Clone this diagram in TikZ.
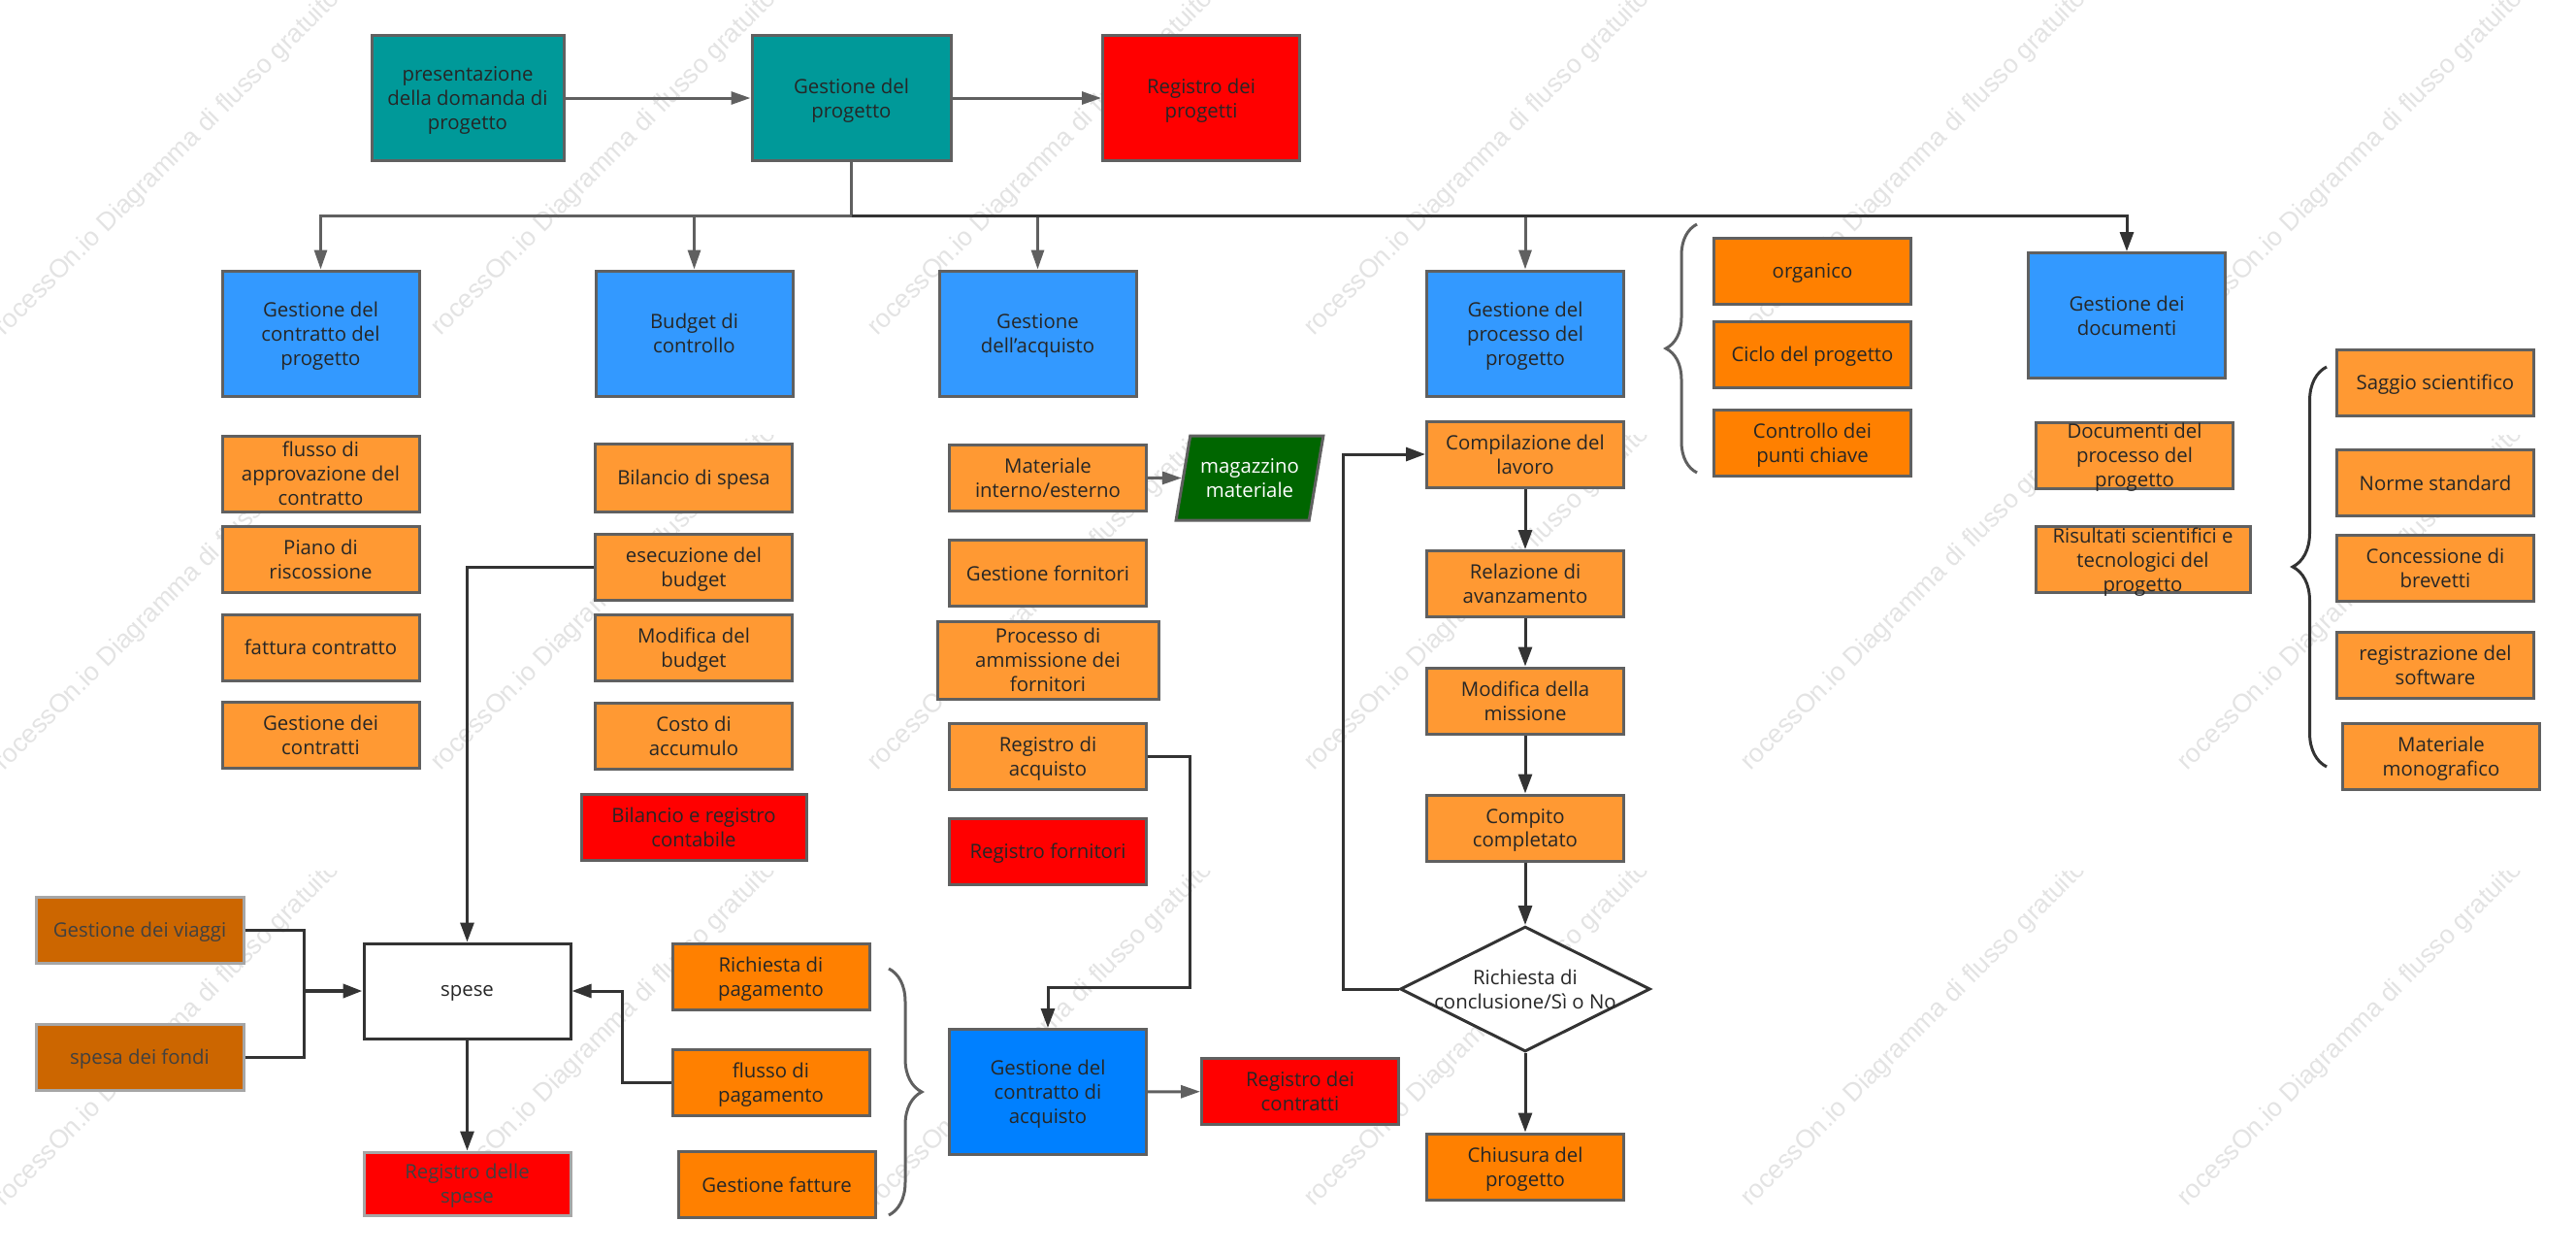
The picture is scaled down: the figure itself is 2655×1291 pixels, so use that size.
\documentclass[tikz,border=0pt]{standalone}
\usepackage{fontspec}
\usepackage{xcolor}
\setmainfont{Open Sans}
\newfontfamily\markfont{Liberation Sans}
\usetikzlibrary{shapes.geometric,arrows.meta}
\usetikzlibrary{decorations.pathreplacing}
\definecolor{cTeal}{HTML}{009999}
\definecolor{cBlue}{HTML}{3399FF}
\definecolor{cDeepBlue}{HTML}{0080FF}
\definecolor{cLightOrange}{HTML}{FF9933}
\definecolor{cOrange}{HTML}{FF8000}
\definecolor{cBrown}{HTML}{CC6600}
\definecolor{cGreen}{HTML}{006600}
\definecolor{cEdge}{HTML}{606060}
\definecolor{cDark}{HTML}{333333}
\tikzstyle{tsText} = [
    text=black!85,
    font=\fontsize{5.8}{7.1}\selectfont,
    align=center,
    text depth=0pt,
    inner sep=0pt
]
\tikzstyle{tsBox} = [
    rectangle,
    tsText,
    draw=cEdge,
    line width=0.3mm,
    minimum width=2.03cm,
    minimum height=0.68cm
]
\tikzstyle{tsTall} = [tsBox, minimum height=1.29cm]
\tikzstyle{tsTeal} = [tsTall, fill=cTeal]
\tikzstyle{tsBlue} = [tsTall, fill=cBlue]
\tikzstyle{tsLight} = [tsBox, fill=cLightOrange]
\tikzstyle{tsOrange} = [tsBox, fill=cOrange]
\tikzstyle{tsRed} = [tsBox, fill=red]
\tikzstyle{tsBrown} = [tsBox, fill=cBrown, draw=black!35, text=black!75, minimum width=2.14cm]
\tikzstyle{tsLine} = [draw=cEdge, line width=0.3mm]
\tikzstyle{tsArrow} = [tsLine, -{Triangle[length=2mm,width=1.3mm]}]
\tikzstyle{tsDark} = [draw=cDark, line width=0.3mm, -{Triangle[length=2mm,width=1.4mm]}]
\tikzstyle{tsBrace} = [draw=cEdge, line width=0.3mm, decorate]
\tikzstyle{tsMark} = [text=black!11, font=\fontsize{7.6}{9}\selectfont\markfont, rotate=45, anchor=base west, inner sep=0pt]

\begin{document}
\begin{tikzpicture}[x=0.1mm, y=-0.1mm]

    \useasboundingbox (0,0) rectangle (2655,1291);

    % background text
    \foreach \ypos in {0,448,897} {
        \foreach \xpos in {0,450,900,1350,1800,2250} {
            \begin{scope}
                \clip (\xpos-10,\ypos) rectangle ++(455,352);
                \node[tsMark] (mark\xpos\ypos) at (\xpos+4,\ypos+347) {rocessOn.io Diagramma di flusso gratuito};
            \end{scope}
        }
    }

    % top row
    \node[tsTeal, minimum width=1.98cm] (pres) at (482, 101) {presentazione\\della domanda di\\progetto};
    \node[tsTeal, minimum width=2.05cm] (proj) at (877.5, 101) {Gestione del\\progetto};
    \node[tsTall, fill=red] (regp) at (1238, 101) {Registro dei\\progetti};

    \draw[tsArrow] (pres) -- (proj);
    \draw[tsArrow] (proj) -- (regp);

    % second row
    \node[tsBlue] (bluea) at (330.5, 343.5) {Gestione del\\contratto del\\progetto};
    \node[tsBlue] (blueb) at (715.5, 343.5) {Budget di\\controllo};
    \node[tsBlue] (bluec) at (1069.5, 343.5) {Gestione\\dell'acquisto};
    \node[tsBlue] (blued) at (1572, 343.5) {Gestione del\\processo del\\progetto};
    \node[tsBlue] (bluee) at (2192, 325) {Gestione dei\\documenti};

    \coordinate (bus) at (877.5, 222);
    \draw[tsLine] (proj.south) -- (bus);
    \draw[tsArrow] (bus) -| (bluea.north);
    \draw[tsArrow] (bus) -| (blueb.north);
    \draw[tsArrow] (bus) -| (bluec.north);
    \draw[tsArrow] (bus) -| (blued.north);
    \draw[tsDark] (bus) -| (bluee.north);

    % contract column
    \node[tsLight, minimum height=0.78cm] (flow) at (330.5, 488) {flusso di\\approvazione del\\contratto};
    \node[tsLight] (plan) at (330.5, 576) {Piano di\\riscossione};
    \node[tsLight] (invo) at (330.5, 667) {fattura contratto};
    \node[tsLight] (cont) at (330.5, 757) {Gestione dei\\contratti};

    % budget column
    \node[tsLight, minimum height=0.7cm] (bala) at (715, 492) {Bilancio di spesa};
    \node[tsLight] (exec) at (715, 584) {esecuzione del\\budget};
    \node[tsLight] (modi) at (715, 667) {Modifica del\\budget};
    \node[tsLight] (cost) at (715, 758) {Costo di\\accumulo};
    \node[tsRed, minimum width=2.32cm] (balr) at (715, 852) {Bilancio e registro\\contabile};

    % purchase column
    \node[tsLight] (mate) at (1080, 492) {Materiale\\interno/esterno};
    \node[trapezium, trapezium left angle=73, trapezium right angle=107, trapezium stretches=true,
          tsText, text=white, fill=cGreen, draw=cEdge, line width=0.3mm,
          minimum width=1.52cm, minimum height=0.87cm] (stor) at (1288, 492.5) {magazzino\\materiale};
    \node[tsLight] (supp) at (1080, 590.5) {Gestione fornitori};
    \node[tsLight, minimum width=2.28cm, minimum height=0.8cm] (admi) at (1080, 680) {Processo di\\ammissione dei\\fornitori};
    \node[tsLight] (rega) at (1080, 779) {Registro di\\acquisto};
    \node[tsRed] (regf) at (1080, 877) {Registro fornitori};
    \node[tsTall, fill=cDeepBlue] (pcon) at (1080, 1125) {Gestione del\\contratto di\\acquisto};
    \node[tsRed] (regc) at (1340, 1124.5) {Registro dei\\contratti};

    \coordinate (bendA) at (1226, 900);
    \coordinate (bendB) at (1150, 1017);
    \draw[tsArrow] (mate) -- (stor.west);
    \draw[tsDark] (rega.east) -| (bendA) |- (bendB) -| (pcon.north);
    \draw[tsArrow] (pcon) -- (regc);

    % process column
    \node[tsLight] (comp) at (1572, 468) {Compilazione del\\lavoro};
    \node[tsLight] (repo) at (1572, 601.5) {Relazione di\\avanzamento};
    \node[tsLight] (miss) at (1572, 722) {Modifica della\\missione};
    \node[tsLight] (done) at (1572, 853) {Compito\\completato};
    \node[diamond, tsText, draw=cDark, fill=white, line width=0.3mm, aspect=2, inner sep=-0.5pt,
          minimum width=2.56cm, minimum height=1.27cm] (ask) at (1572, 1019) {Richiesta di\\conclusione/Sì o No};
    \node[tsOrange] (clos) at (1572, 1202) {Chiusura del\\progetto};

    \coordinate (loopx) at (1384, 750);
    \draw[tsDark] (comp) -- (repo);
    \draw[tsDark] (repo) -- (miss);
    \draw[tsDark] (miss) -- (done);
    \draw[tsDark] (done) -- (ask);
    \draw[tsDark] (ask) -- (clos);
    \draw[tsDark] (ask.west) -| (loopx) |- (comp.west);

    % organisation group
    \node[tsOrange] (orga) at (1868, 279) {organico};
    \node[tsOrange] (cycl) at (1868, 365) {Ciclo del progetto};
    \node[tsOrange] (keyp) at (1868, 456) {Controllo dei\\punti chiave};
    \draw[tsBrace, decoration={brace, amplitude=3.2mm}] (1749, 487) -- (1749, 231);

    % documents group
    \node[tsLight] (docp) at (2200, 469) {Documenti del\\processo del\\progetto};
    \node[tsLight, minimum width=2.21cm] (docr) at (2208.5, 576.5) {Risultati scientifici e\\tecnologici del\\progetto};

    \node[tsLight] (essa) at (2510, 394) {Saggio scientifico};
    \node[tsLight] (norm) at (2510, 497.5) {Norme standard};
    \node[tsLight] (pate) at (2510, 585) {Concessione di\\brevetti};
    \node[tsLight] (soft) at (2510, 685.5) {registrazione del\\software};
    \node[tsLight] (mono) at (2516, 779.5) {Materiale\\monografico};
    \draw[tsBrace, draw=cDark, decoration={brace, amplitude=3.5mm}] (2398, 790) -- (2398, 378);

    % expenses
    \node[tsBrown] (trav) at (144, 958) {Gestione dei viaggi};
    \node[tsBrown] (fund) at (144, 1089) {spesa dei fondi};
    \node[tsBox, fill=white, draw=cDark, minimum width=2.13cm, minimum height=0.98cm] (expe) at (481.5, 1021) {spese};
    \node[tsRed, draw=black!35, text=black!75, minimum width=2.13cm, minimum height=0.65cm] (rege) at (481.5, 1219.5) {Registro delle\\spese};
    \node[tsOrange] (paya) at (794.5, 1006) {Richiesta di\\pagamento};
    \node[tsOrange] (payf) at (794.5, 1115.5) {flusso di\\pagamento};
    \node[tsOrange] (fatt) at (800.5, 1220.5) {Gestione fatture};

    \coordinate (joinA) at (313, 1021);
    \coordinate (joinB) at (641, 1021);
    \draw[draw=cDark, line width=0.3mm] (trav.east) -| (joinA);
    \draw[draw=cDark, line width=0.3mm] (fund.east) -| (joinA);
    \draw[tsDark, line width=0.4mm] (joinA) -- (expe.west);
    \draw[tsDark] (payf.west) -| (joinB) -- (expe.east);
    \draw[tsDark] (exec.west) -| (expe.north);
    \draw[tsDark] (expe) -- (rege);
    \draw[tsBrace, decoration={brace, amplitude=3.4mm}] (916, 998) -- (916, 1252);

\end{tikzpicture}
\end{document}
